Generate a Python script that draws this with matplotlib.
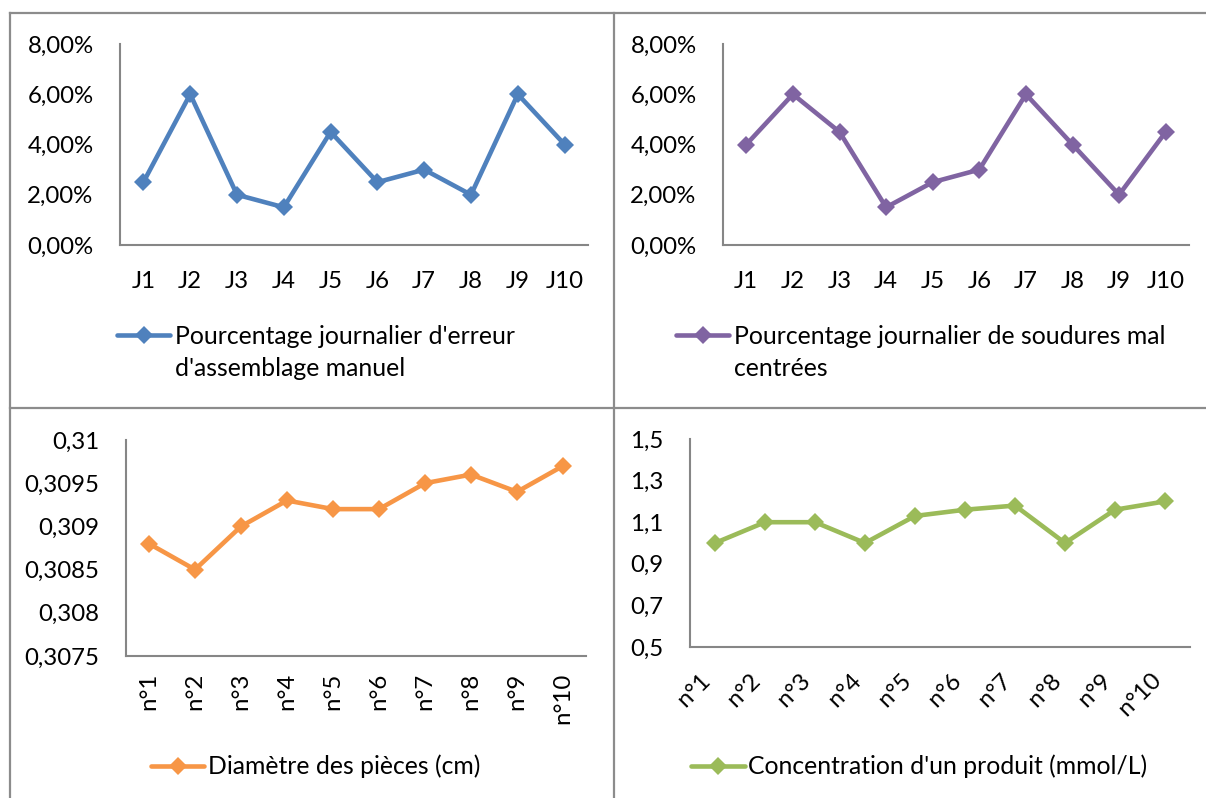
import matplotlib
matplotlib.use("Agg")
import matplotlib.pyplot as plt
from matplotlib.lines import Line2D
from matplotlib.ticker import FuncFormatter

# ---------------- data ----------------
days = ["J1", "J2", "J3", "J4", "J5", "J6", "J7", "J8", "J9", "J10"]
pieces = ["n°1", "n°2", "n°3", "n°4", "n°5", "n°6", "n°7", "n°8", "n°9", "n°10"]

err_assemblage = [0.025, 0.06, 0.02, 0.015, 0.045, 0.025, 0.03, 0.02, 0.06, 0.04]
soudures = [0.04, 0.06, 0.045, 0.015, 0.025, 0.03, 0.06, 0.04, 0.02, 0.045]
diametre = [0.3088, 0.3085, 0.3090, 0.3093, 0.3092, 0.3092, 0.3095, 0.3096, 0.3094, 0.3097]
concentration = [1.00, 1.10, 1.10, 1.00, 1.13, 1.16, 1.18, 1.00, 1.16, 1.20]

pct_ticks = [0.0, 0.02, 0.04, 0.06, 0.08]
diam_ticks = [0.3075, 0.308, 0.3085, 0.309, 0.3095, 0.31]
conc_ticks = [0.5, 0.7, 0.9, 1.1, 1.3, 1.5]

label_err = "Pourcentage journalier d'erreur\nd'assemblage manuel"
label_soud = "Pourcentage journalier de soudures mal\ncentrées"
label_diam = "Diamètre des pièces (cm)"
label_conc = "Concentration d'un produit (mmol/L)"

BLUE = "#4F81BD"
PURPLE = "#8064A2"
ORANGE = "#F79646"
GREEN = "#9BBB59"
AXIS = "#868686"
BORDER = "#8C8C8C"

plt.rcParams['font.family'] = ['Lato', 'DejaVu Sans']
FS = 17.3
FSL = 17.8

W, H = 1206, 798
fig = plt.figure(figsize=(W / 100, H / 100), dpi=100)


def px_axes(left, top, right, bottom):
    return fig.add_axes([left / W, 1 - bottom / H, (right - left) / W, (bottom - top) / H])


def fx(x):
    return x / W


def fy(y):
    return 1 - y / H


def style(ax, cats, yticks, fmt, rot=0):
    for s in ("top", "right"):
        ax.spines[s].set_visible(False)
    for s in ("left", "bottom"):
        ax.spines[s].set_color(AXIS)
        ax.spines[s].set_linewidth(1.5)
    ax.set_xlim(-0.5, len(cats) - 0.5)
    ax.set_ylim(yticks[0], yticks[-1])
    ax.set_yticks(yticks)
    ax.yaxis.set_major_formatter(FuncFormatter(fmt))
    ax.set_xticks(range(len(cats)))
    if rot == 0:
        ax.set_xticklabels(cats, fontsize=FS)
        ax.tick_params(axis='x', length=0, pad=19)
    elif rot == 90:
        ax.set_xticklabels(cats, fontsize=FS, rotation=90, ha='center', va='top')
        ax.tick_params(axis='x', length=0, pad=12)
    else:
        ax.set_xticklabels(cats, fontsize=FS, rotation=45, ha='right', va='top')
        ax.tick_params(axis='x', length=0, pad=16)
    ax.tick_params(axis='y', length=0, pad=19, labelsize=FS)
    ax.patch.set_alpha(0)


def pct_fmt(v, p):
    return ("%.2f%%" % (v * 100)).replace(".", ",")


def gen_fmt(v, p):
    s = ("%.4f" % v).rstrip("0").rstrip(".")
    return s.replace(".", ",")


def plot_series(ax, vals, color):
    ax.plot(range(len(vals)), vals, color=color, lw=3.3, marker="D", ms=9.5,
            markeredgewidth=0, solid_joinstyle='round', clip_on=False, zorder=3)


def legend(x0, x1, y, color, text, tx):
    fig.add_artist(Line2D([fx(x0), fx(x1)], [fy(y), fy(y)], transform=fig.transFigure,
                          color=color, lw=3.3, solid_capstyle='round'))
    fig.add_artist(Line2D([fx((x0 + x1) / 2)], [fy(y)], transform=fig.transFigure,
                          color=color, marker="D", ms=9, markeredgewidth=0))
    for i, line in enumerate(text.split("\n")):
        fig.text(fx(tx), fy(y + 8.5 + 33 * i), line, fontsize=FSL,
                 va='baseline', ha='left')


# top-left
ax1 = px_axes(120, 44, 588, 245)
plot_series(ax1, err_assemblage, BLUE)
style(ax1, days, pct_ticks, pct_fmt)
legend(117, 170, 335, BLUE, label_err, 175)

# top-right
ax2 = px_axes(723, 44, 1189, 245)
plot_series(ax2, soudures, PURPLE)
style(ax2, days, pct_ticks, pct_fmt)
legend(676, 729, 335, PURPLE, label_soud, 734)

# bottom-left
ax3 = px_axes(126, 440, 586, 656)
plot_series(ax3, diametre, ORANGE)
style(ax3, pieces, diam_ticks, gen_fmt, rot=90)
legend(151, 204, 766, ORANGE, label_diam, 208)

# bottom-right
ax4 = px_axes(690, 439, 1190, 647)
plot_series(ax4, concentration, GREEN)
style(ax4, pieces, conc_ticks, gen_fmt, rot=45)
legend(691, 745, 766, GREEN, label_conc, 748)

# table borders
for (xa, ya, xb, yb) in [(10, 13, 1206, 13), (10, 408, 1206, 408),
                         (10, 13, 10, 798), (614, 13, 614, 798)]:
    fig.add_artist(Line2D([fx(xa), fx(xb)], [fy(ya), fy(yb)], transform=fig.transFigure,
                          color=BORDER, lw=1.6))

fig.savefig("out.png", dpi=100)
